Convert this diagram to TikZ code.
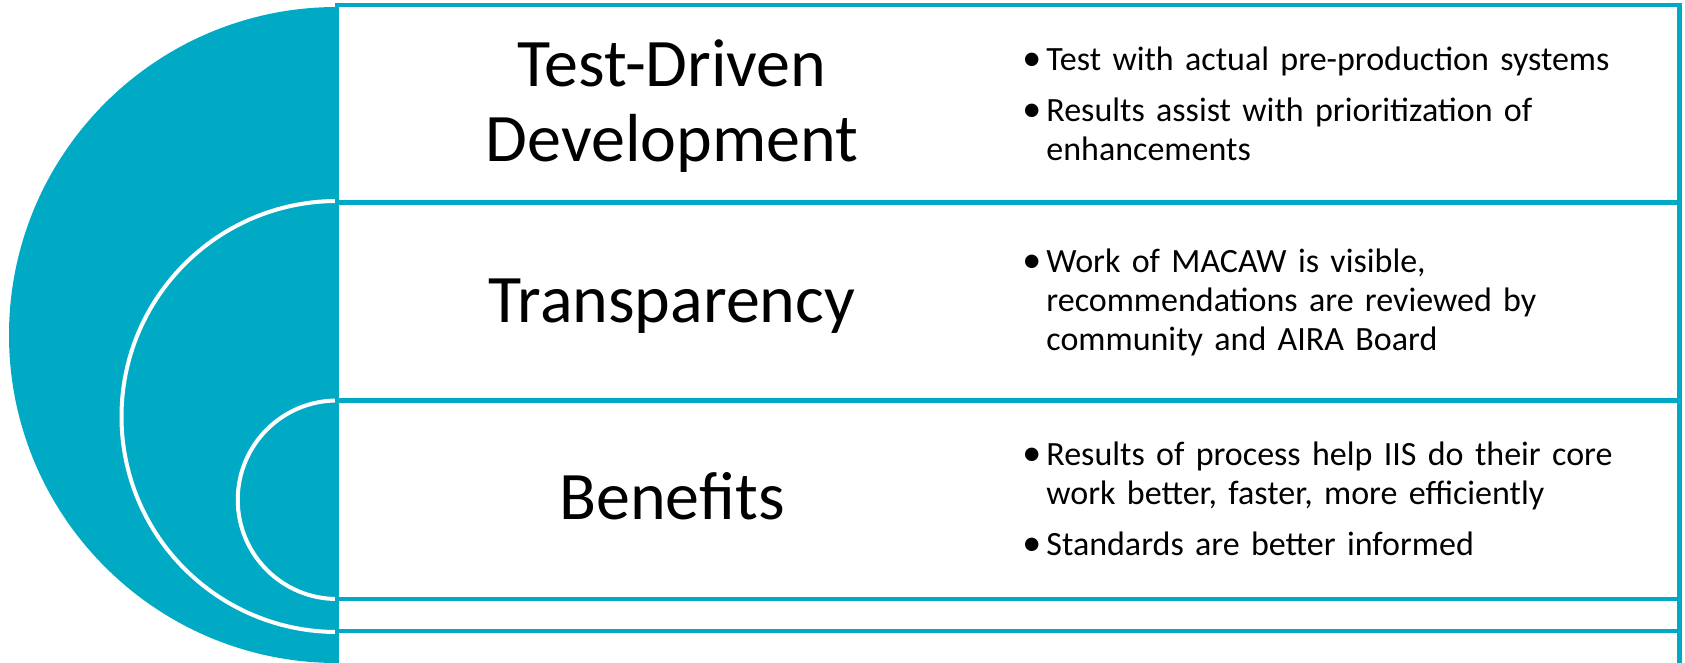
\documentclass[tikz,border=0pt]{standalone}
\usepackage{fontspec}
\setmainfont{Carlito}
\definecolor{arcteal}{RGB}{0,170,196}
\tikzset{
  listbox/.style={draw=arcteal, line width=2.4pt, fill=white},
  halfdisk/.style={fill=arcteal},
  diskrim/.style={draw=white, line width=2pt},
  heading/.style={align=center, inner sep=0pt, font=\fontsize{34}{37.5}\selectfont},
  bulletlist/.style={anchor=west, inner sep=0pt, text width=340pt, align=left,
    font=\fontsize{17}{19.5}\selectfont,
    execute at begin node={\setlength{\parskip}{6pt}}},
}
\newdimen\itemdp
\newcommand{\bitem}[1]{\par\noindent\makebox[12pt][l]{\fontsize{19}{19.5}\selectfont\textbullet}%
  \parbox[t]{320pt}{\raggedright #1\par\global\itemdp=\prevdepth}\par\prevdepth=\itemdp}

\begin{document}
\begin{tikzpicture}[x=0.5pt, y=-0.5pt]
	\useasboundingbox (0,0) rectangle (1685,663);

	% half disks, largest first
	\fill[halfdisk] (337,7) arc[start angle=270, end angle=90, radius=328] -- cycle;
	\fill[halfdisk] (337,201) arc[start angle=270, end angle=90, radius=215.5] -- cycle;
	\draw[diskrim] (337,201) arc[start angle=270, end angle=90, radius=215.5];
	\fill[halfdisk] (337,400.5) arc[start angle=270, end angle=90, radius=99.25] -- cycle;
	\draw[diskrim] (337,400.5) arc[start angle=270, end angle=90, radius=99.25];

	% boxes
	\foreach \ytop/\ybot in {5/202.5, 202.5/400.5, 400.5/599, 599/631, 631/670}
		\draw[listbox] (337,\ytop) rectangle (1679.5,\ybot);

	\node[heading] (tdd) at (672,106) {Test-Driven\\Development};
	\node[heading, anchor=base] (transp) at (672,322) {Transparency};
	\node[heading, anchor=base] (benef) at (672,519) {Benefits};

	\node[bulletlist] (tddlist) at (1022,90) {%
		\bitem{Test with actual pre-production systems}%
		\bitem{Results assist with prioritization of\\ enhancements}};
	\node[bulletlist] (transplist) at (1022,289) {%
		\bitem{Work of MACAW is visible,\\ recommendations are reviewed by\\ community and AIRA Board}};
	\node[bulletlist] (beneflist) at (1022,485) {%
		\bitem{Results of process help IIS do their core\\ work better, faster, more efficiently}%
		\bitem{Standards are better informed}};
\end{tikzpicture}
\end{document}
